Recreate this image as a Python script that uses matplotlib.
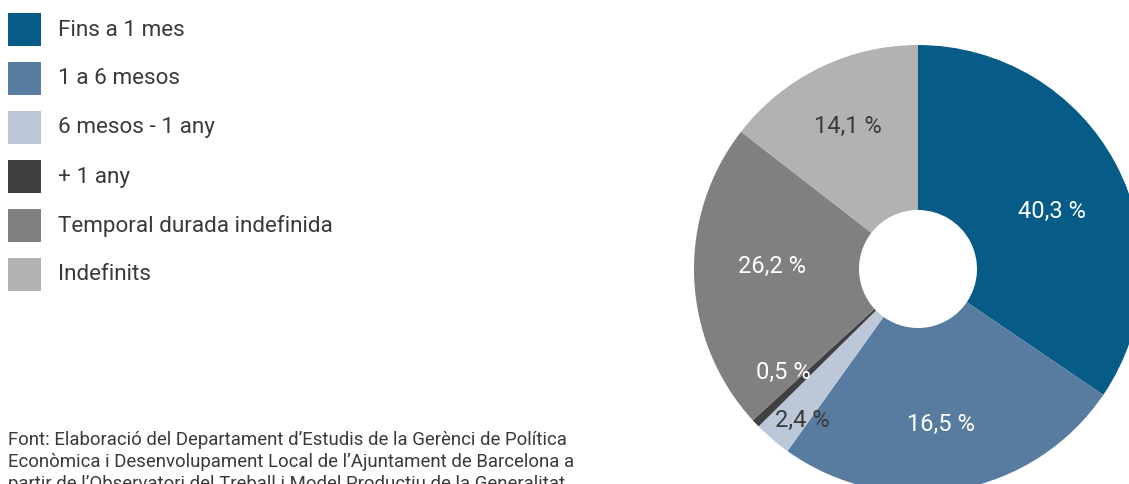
import matplotlib.pyplot as plt
import numpy as np
from matplotlib.patches import Rectangle

# categories, in clockwise order from 12 o'clock
categories = ["Fins a 1 mes", "1 a 6 mesos", "6 mesos - 1 any", "+ 1 any",
              "Temporal durada indefinida", "Indefinits"]
# wedge sizes as drawn in the reference (they don't follow the printed labels exactly)
shares = [34.5, 25.4, 2.7, 0.6, 22.3, 14.5]
value_labels = ["40,3 %", "16,5 %", "2,4 %", "0,5 %", "26,2 %", "14,1 %"]
colors = ["#065c87", "#577c9f", "#bcc7d8", "#404040", "#808080", "#b2b2b2"]
label_colors = ["white", "white", "#3a3a3a", "white", "white", "#3a3a3a"]
# label placement: radius fraction and angle nudge (deg) per wedge
label_radius = [0.65, 0.70, 0.85, 0.76, 0.65, 0.71]
label_nudge = [-4.5, -1.5, 3.0, -6.0, -3.5, 0.0]

source = ("Font: Elaboració del Departament d’Estudis de la Gerènci de Política\n"
          "Econòmica i Desenvolupament Local de l’Ajuntament de Barcelona a\n"
          "partir de l’Observatori del Treball i Model Productiu de la Generalitat")

plt.rcParams["font.family"] = ["Roboto", "DejaVu Sans"]
TEXT = "#3a3a3a"

W, H = 1129, 484
fig = plt.figure(figsize=(W / 100, H / 100), dpi=100)

# pie axes: centre at (918, 269) px, radius 224 px
cx, cy, r = 918, 269, 224
ax = fig.add_axes([(cx - r) / W, (H - cy - r) / H, 2 * r / W, 2 * r / H])
wedges, _ = ax.pie(shares, colors=colors, startangle=90, counterclock=False,
                   radius=1.0, wedgeprops=dict(width=1 - 59 / 224, linewidth=0))
ax.set_xlim(-1, 1)
ax.set_ylim(-1, 1)
ax.set_aspect("equal")
ax.axis("off")

for w, lab, rad, nud, col in zip(wedges, value_labels, label_radius, label_nudge, label_colors):
    ang = np.deg2rad((w.theta1 + w.theta2) / 2 + nud)
    ax.text(rad * np.cos(ang), rad * np.sin(ang), lab, ha="center", va="center",
            fontsize=17, color=col)

# legend drawn in pixel space
lg = fig.add_axes([0, 0, 1, 1], zorder=-1)
lg.set_xlim(0, W)
lg.set_ylim(H, 0)
lg.axis("off")
for i, (cat, col) in enumerate(zip(categories, colors)):
    y0 = 13 + i * 49
    lg.add_patch(Rectangle((8, y0), 33, 33, color=col, lw=0))
    lg.text(58, y0 + 17, cat, va="center", ha="left", fontsize=16.2, color=TEXT)

lg.text(8, 431, source, va="top", ha="left", fontsize=13.4, color=TEXT, linespacing=1.3)

fig.savefig("out.png", dpi=100)
